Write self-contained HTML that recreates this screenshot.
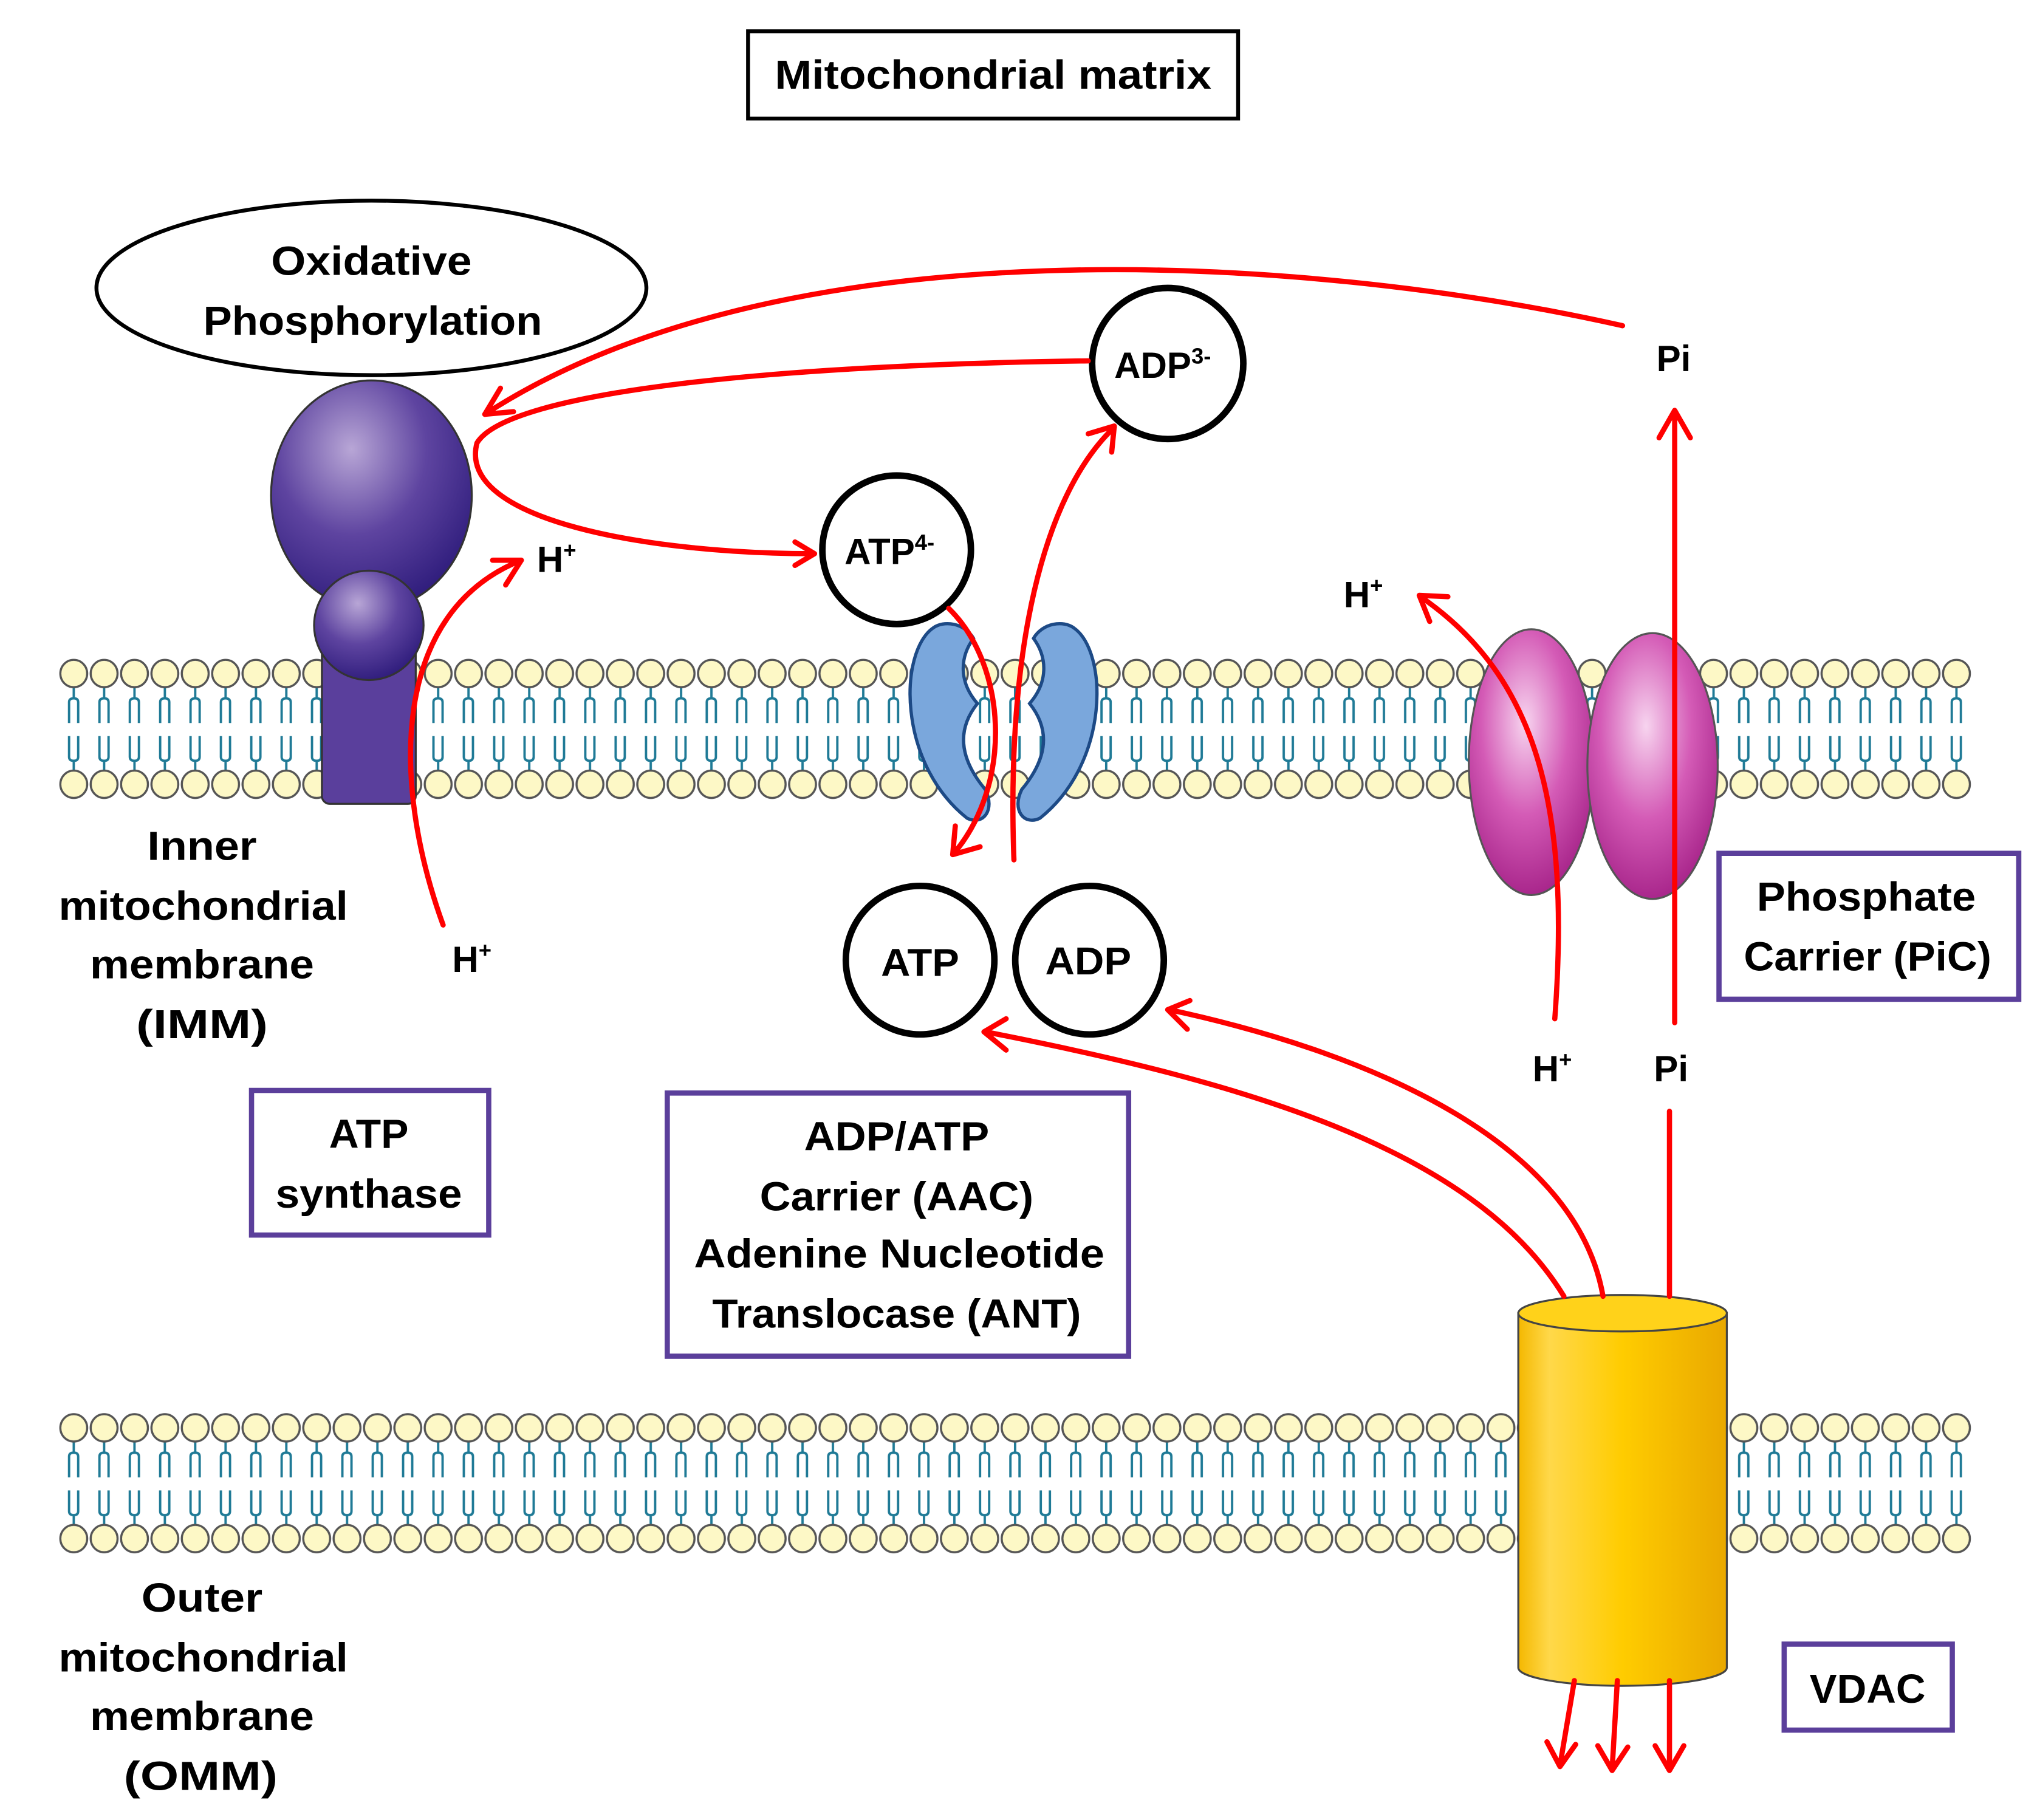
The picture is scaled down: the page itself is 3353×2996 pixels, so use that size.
<!DOCTYPE html>
<html><head><meta charset="utf-8"><style>
html,body{margin:0;padding:0;background:#fff;}
svg{display:block;}
text{font-family:"Liberation Sans",sans-serif;font-weight:bold;fill:#000;}
</style></head><body>
<svg width="3353" height="2996" viewBox="0 0 1563 1397" preserveAspectRatio="none" xmlns="http://www.w3.org/2000/svg">
<defs>
<pattern id="lip" patternUnits="userSpaceOnUse" x="0" y="0" width="23.3" height="110">
 <g stroke="#1f7a96" stroke-width="1.8" fill="none">
  <path d="M11.6 23 V31 M8 50 V34 Q8 31 11.6 31 Q15 31 15 34 V50"/>
  <path d="M11.6 87 V79 M8 60 V76 Q8 79 11.6 79 Q15 79 15 76 V60"/>
 </g>
 <ellipse cx="11.6" cy="12" rx="10.3" ry="10.5" fill="#fdf8c6" stroke="#555" stroke-width="1.6"/>
 <ellipse cx="11.6" cy="97" rx="10.3" ry="10.5" fill="#fdf8c6" stroke="#555" stroke-width="1.6"/>
</pattern>
<radialGradient id="purp" cx="0.4" cy="0.3" r="0.75">
 <stop offset="0" stop-color="#b8a6d6"/><stop offset="0.5" stop-color="#5e44a0"/><stop offset="1" stop-color="#2c1a7a"/>
</radialGradient>
<radialGradient id="pink" cx="0.45" cy="0.35" r="0.7">
 <stop offset="0" stop-color="#f7d4ef"/><stop offset="0.5" stop-color="#d45bb6"/><stop offset="1" stop-color="#a21e85"/>
</radialGradient>
<linearGradient id="yel" x1="0" x2="1">
 <stop offset="0" stop-color="#f4b800"/><stop offset="0.15" stop-color="#ffd84a"/><stop offset="0.5" stop-color="#ffcc00"/><stop offset="1" stop-color="#e9a800"/>
</linearGradient>
<marker id="ah" markerWidth="10" markerHeight="10" refX="7" refY="5" orient="auto" markerUnits="userSpaceOnUse" viewBox="0 0 10 10">
</marker>
</defs>

<!-- membranes -->
<g transform="translate(45,505)"><rect x="0" y="0" width="1468" height="110" fill="url(#lip)"/></g>
<g transform="translate(45,1084)"><rect x="0" y="0" width="1468" height="110" fill="url(#lip)"/></g>

<!-- Title box -->
<rect x="574" y="24" width="376" height="67" fill="#fff" stroke="#000" stroke-width="3"/>
<text x="762" y="68" font-size="31" text-anchor="middle" textLength="335" lengthAdjust="spacingAndGlyphs">Mitochondrial matrix</text>

<!-- Ox phos ellipse -->
<ellipse cx="285" cy="221" rx="211" ry="67" fill="#fff" stroke="#000" stroke-width="3"/>
<text x="285" y="211" font-size="31" text-anchor="middle" textLength="154" lengthAdjust="spacingAndGlyphs">Oxidative</text>
<text x="286" y="257" font-size="31" text-anchor="middle" textLength="260" lengthAdjust="spacingAndGlyphs">Phosphorylation</text>

<!-- ATP synthase -->
<rect x="247" y="470" width="72" height="147" rx="6" fill="#5a3f9c" stroke="#333" stroke-width="1.5"/>
<ellipse cx="285" cy="380" rx="77" ry="88" fill="url(#purp)" stroke="#333" stroke-width="1.5"/>
<circle cx="283" cy="480" r="42" fill="url(#purp)" stroke="#333" stroke-width="1.5"/>

<!-- ANT -->
<g fill="#7aa7dc" stroke="#1d4a86" stroke-width="2.5">
 <path id="antL" d="M716,482 C690,500 688,585 742,628 C754,634 764,622 756,606 C736,582 734,560 750,540 C736,524 736,505 747,490 C740,478 724,476 716,482 Z"/>
 <path d="M716,482 C690,500 688,585 742,628 C754,634 764,622 756,606 C736,582 734,560 750,540 C736,524 736,505 747,490 C740,478 724,476 716,482 Z" transform="translate(1540,0) scale(-1,1)"/>
</g>

<!-- PiC -->
<ellipse cx="1175" cy="585" rx="48" ry="102" fill="url(#pink)" stroke="#555" stroke-width="1.5"/>
<ellipse cx="1268" cy="588" rx="50" ry="102" fill="url(#pink)" stroke="#555" stroke-width="1.5"/>

<!-- VDAC -->
<path d="M1165,1008 V1280 A80,14 0 0 0 1325,1280 V1008 Z" fill="url(#yel)" stroke="#444" stroke-width="1.5"/>
<ellipse cx="1245" cy="1008" rx="80" ry="14" fill="#ffd21a" stroke="#444" stroke-width="1.5"/>

<!-- circles -->
<g fill="#fff" stroke="#000" stroke-width="5">
 <circle cx="896" cy="279" r="58"/>
 <circle cx="688" cy="422" r="57"/>
 <circle cx="706" cy="737" r="57"/>
 <circle cx="836" cy="737" r="57"/>
</g>
<text x="855" y="290" font-size="28">ADP<tspan font-size="17" dy="-11">3-</tspan></text>
<text x="648" y="433" font-size="28">ATP<tspan font-size="17" dy="-11">4-</tspan></text>
<text x="706" y="749" font-size="30" text-anchor="middle" textLength="60" lengthAdjust="spacingAndGlyphs">ATP</text>
<text x="835" y="748" font-size="30" text-anchor="middle" textLength="66" lengthAdjust="spacingAndGlyphs">ADP</text>

<!-- red arrows -->
<g fill="none" stroke="#f00" stroke-width="4" stroke-linecap="round" stroke-linejoin="round">
 <path d="M1245,250 C1000,195 600,170 372,318"/>
 <path d="M384,298 L372,318 L394,316"/>
 <path d="M835,277 C600,280 390,300 366,340 C350,400 500,425 624,425"/>
 <path d="M610,416 L625,425 L610,434"/>
 <path d="M728,467 C772,510 778,600 732,655"/>
 <path d="M733,634 L731,656 L752,650"/>
 <path d="M778,660 C772,500 800,380 855,328"/>
 <path d="M835,333 L855,327 L853,347"/>
 <path d="M340,710 C300,600 300,470 400,430"/>
 <path d="M378,430 L400,430 L388,449"/>
 <path d="M1193,782 C1205,620 1180,520 1090,458"/>
 <path d="M1097,477 L1089,457 L1111,458"/>
 <path d="M1285,785 V316"/>
 <path d="M1273,336 L1285,315 L1297,336"/>
 <path d="M1200,995 C1130,880 950,830 756,792"/>
 <path d="M772,782 L755,792 L772,806"/>
 <path d="M1230,995 C1210,880 1060,810 897,775"/>
 <path d="M913,768 L896,775 L911,790"/>
 <path d="M1281,995 V853"/>
 <path d="M1208,1290 L1197,1355 M1187,1337 L1197,1356 L1209,1339"/>
 <path d="M1241,1290 L1237,1358 M1226,1340 L1237,1359 L1249,1341"/>
 <path d="M1281,1290 V1358 M1270,1340 L1281,1359 L1292,1340"/>
</g>

<!-- H+ / Pi labels -->
<text x="412" y="439" font-size="28">H<tspan font-size="17" dy="-11">+</tspan></text>
<text x="347" y="746" font-size="28">H<tspan font-size="17" dy="-11">+</tspan></text>
<text x="1031" y="466" font-size="28">H<tspan font-size="17" dy="-11">+</tspan></text>
<text x="1176" y="830" font-size="28">H<tspan font-size="17" dy="-11">+</tspan></text>
<text x="1271" y="285" font-size="28">Pi</text>
<text x="1269" y="830" font-size="28">Pi</text>

<!-- membrane labels -->
<g font-size="31" text-anchor="middle">
 <text x="155" y="660" textLength="84" lengthAdjust="spacingAndGlyphs">Inner</text>
 <text x="156" y="706" textLength="222" lengthAdjust="spacingAndGlyphs">mitochondrial</text>
 <text x="155" y="751" textLength="172" lengthAdjust="spacingAndGlyphs">membrane</text>
 <text x="155" y="797" textLength="101" lengthAdjust="spacingAndGlyphs">(IMM)</text>
 <text x="155" y="1237" textLength="93" lengthAdjust="spacingAndGlyphs">Outer</text>
 <text x="156" y="1283" textLength="222" lengthAdjust="spacingAndGlyphs">mitochondrial</text>
 <text x="155" y="1328" textLength="172" lengthAdjust="spacingAndGlyphs">membrane</text>
 <text x="154" y="1374" textLength="118" lengthAdjust="spacingAndGlyphs">(OMM)</text>
</g>

<!-- purple boxes -->
<g fill="#fff" stroke="#5b3f9b" stroke-width="4">
 <rect x="193" y="837" width="182" height="111"/>
 <rect x="512" y="839" width="354" height="202"/>
 <rect x="1319" y="655" width="230" height="112"/>
 <rect x="1369" y="1262" width="129" height="66"/>
</g>
<g font-size="31" text-anchor="middle">
 <text x="283" y="881" textLength="61" lengthAdjust="spacingAndGlyphs">ATP</text>
 <text x="283" y="927" textLength="143" lengthAdjust="spacingAndGlyphs">synthase</text>
 <text x="688" y="883" textLength="142" lengthAdjust="spacingAndGlyphs">ADP/ATP</text>
 <text x="688" y="929" textLength="210" lengthAdjust="spacingAndGlyphs">Carrier (AAC)</text>
 <text x="690" y="973" textLength="315" lengthAdjust="spacingAndGlyphs">Adenine Nucleotide</text>
 <text x="688" y="1019" textLength="283" lengthAdjust="spacingAndGlyphs">Translocase (ANT)</text>
 <text x="1432" y="699" textLength="168" lengthAdjust="spacingAndGlyphs">Phosphate</text>
 <text x="1433" y="745" textLength="190" lengthAdjust="spacingAndGlyphs">Carrier (PiC)</text>
 <text x="1433" y="1307" textLength="89" lengthAdjust="spacingAndGlyphs">VDAC</text>
</g>
</svg>
</body></html>
